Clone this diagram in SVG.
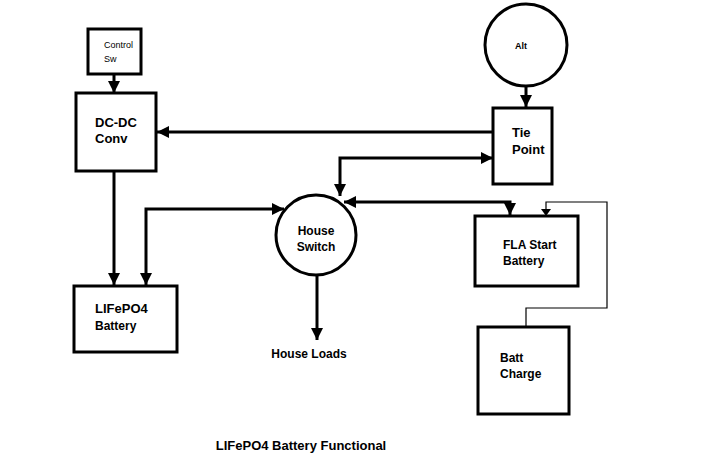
<svg xmlns="http://www.w3.org/2000/svg" width="713" height="464" viewBox="0 0 713 464">
<style>
.n{fill:#fff;stroke:#000;stroke-width:3}
.c{fill:none;stroke:#000;stroke-width:3}
.t{fill:none;stroke:#000;stroke-width:1.2}
text{font-family:"Liberation Sans",Arial,sans-serif;font-size:12px;fill:#000}
.b{font-weight:bold}
.s{font-size:9px}
.l{font-size:13px}
</style>
<defs><marker id="a" viewBox="0 0 10 10" refX="10" refY="5" markerWidth="4" markerHeight="4" orient="auto-start-reverse" markerUnits="strokeWidth"><path d="M0,0L10,5L0,10z"/></marker></defs>
<rect width="713" height="464" fill="#fff"/>
<g id="connectors">
<path class="c" d="M114,74V93" marker-end="url(#a)"/>
<path class="c" d="M526,83V107" marker-end="url(#a)"/>
<path class="c" d="M493,132H157" marker-end="url(#a)"/>
<path class="c" d="M493,158H340V196" marker-start="url(#a)" marker-end="url(#a)"/>
<path class="c" d="M344,202H510V215" marker-start="url(#a)" marker-end="url(#a)"/>
<path class="c" d="M146,285V209H284" marker-start="url(#a)" marker-end="url(#a)"/>
<path class="c" d="M114,171V285" marker-end="url(#a)"/>
<path class="c" d="M317,276V340" marker-end="url(#a)"/>
<path class="t" d="M526,327V308H607V202H546V214"/>
<path d="M541,209L546,216L551,209z"/>
</g>
<g id="control"><rect class="n" x="88" y="29" width="53" height="45"/><text class="s" x="104" y="48">Control</text><text class="s" x="104" y="62">Sw</text></g>
<g id="dcdc"><rect class="n" x="76" y="93" width="80" height="78"/><text class="b l" x="95" y="127">DC-DC</text><text class="b l" x="95" y="143">Conv</text></g>
<g id="lifepo4"><rect class="n" x="74" y="286" width="103" height="66"/><text class="b l" x="95" y="313">LIFePO4</text><text class="b" x="95" y="330">Battery</text></g>
<g id="house"><circle class="n" cx="316" cy="235" r="40"/><text class="b" x="316" y="235" text-anchor="middle">House</text><text class="b" x="316" y="251" text-anchor="middle">Switch</text></g>
<g id="loads"><text class="b" x="309" y="358" text-anchor="middle">House Loads</text></g>
<g id="alt"><circle class="n" cx="526" cy="45" r="41"/><text class="b s" x="521" y="49" text-anchor="middle">Alt</text></g>
<g id="tie"><rect class="n" x="493" y="108" width="59" height="76"/><text class="b l" x="512" y="137">Tie</text><text class="b l" x="512" y="154">Point</text></g>
<g id="fla"><rect class="n" x="475" y="216" width="103" height="70"/><text class="b" x="503" y="249">FLA Start</text><text class="b" x="503" y="265">Battery</text></g>
<g id="charge"><rect class="n" x="478" y="327" width="91" height="87"/><text class="b" x="500" y="362">Batt</text><text class="b" x="500" y="378">Charge</text></g>
<g id="title"><text class="b l" x="301" y="450" text-anchor="middle">LIFePO4 Battery Functional</text></g>
</svg>
